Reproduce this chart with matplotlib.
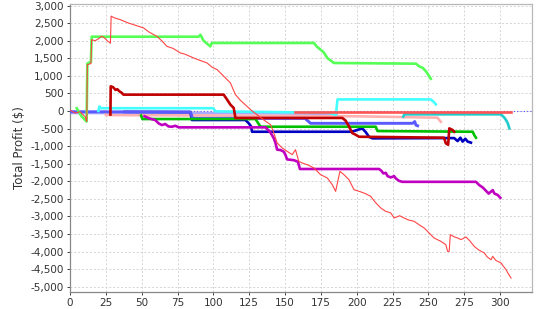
import matplotlib
matplotlib.use("Agg")
import matplotlib.pyplot as plt
from matplotlib.ticker import FuncFormatter, MultipleLocator

# ===============================
# Series data (trade #, total profit $)
# ===============================
red_thin_x = [0, 3.5, 7, 10.5, 11.7, 12.1, 14.6, 15.1, 17.5, 20, 22.1, 24, 26, 28.2, 28.7, 31, 35, 38, 41,
              44.3, 47, 51.3, 55, 60.6, 64, 67.6, 72, 76.9, 80, 86.2, 90, 95.6, 99, 102.6, 107, 111.9,
              115.4, 119, 123.5, 127, 130.5, 135, 139.9, 142, 144.5, 148, 151.5, 155, 157.3, 159.6, 162,
              165.5, 170.2, 174.8, 179.5, 183, 185.3, 188.3, 191.1, 194.6, 198.1, 202.8, 206, 209.8, 213,
              216.8, 220, 223.8, 226.1, 230, 233.1, 236, 240.1, 244, 247.1, 250, 254, 258.7, 262.2, 263.4,
              264.5, 265.3, 268, 270.4, 272.8, 276.2, 279, 282, 285, 289, 291, 293.7, 294.9, 297, 300.7,
              302, 304.2, 306, 307.7]
red_thin_y = [30, -60, -20, -160, -300, 1320, 1350, 2030, 2000, 2060, 2130, 2080, 2000, 1930, 2700, 2650,
              2600, 2550, 2500, 2459, 2420, 2365, 2250, 2126, 2000, 1841, 1780, 1653, 1620, 1511, 1450,
              1369, 1250, 1178, 1000, 800, 466, 300, 133, 0, -103, -250, -388, -600, -909, -1050, -1148,
              -1242, -1100, -1433, -1480, -1527, -1621, -1811, -1906, -2100, -2287, -1717, -1811, -1954,
              -2239, -2300, -2350, -2429, -2600, -2760, -2850, -2902, -3044, -2980, -3044, -3100, -3140,
              -3250, -3329, -3450, -3614, -3709, -3804, -3994, -3994, -3520, -3580, -3614, -3660, -3585,
              -3700, -3853, -3950, -4040, -4150, -4231, -4135, -4250, -4326, -4400, -4516, -4650, -4753]

green_x = [4.7, 8, 11.6, 12.1, 14.6, 15.1, 89.7, 91, 93.2, 97.9, 99, 170.2, 172, 174.8, 177, 179.5, 184.1,
           241.3, 243.6, 246, 248.3, 250.6, 251.7]
green_y = [80, -150, -300, 1350, 1400, 2115, 2115, 2170, 2000, 1840, 1937, 1937, 1840, 1746, 1670, 1510,
           1367, 1347, 1272, 1230, 1130, 990, 917]

dred_x = [28.2, 28.4, 30, 31.8, 33, 34.5, 36, 37.3, 107.2, 109.6, 111.9, 114.2, 115.4, 190, 192.3, 194.6,
          196.9, 199.3, 201.6, 260.9, 262.2, 263.8, 264.6, 266.9, 268]
dred_y = [-100, 703, 680, 600, 620, 560, 520, 466, 466, 324, 181, 87, -198, -198, -275, -437, -627, -675,
          -732, -760, -920, -960, -494, -540, -590]

cyan_x = [19.8, 20.5, 21.5, 100, 101.4, 180, 185.5, 186.6, 251.7, 254, 255.2]
cyan_y = [0, 130, 80, 80, -10, -50, -110, 330, 330, 248, 190]

teal_x = [232.5, 233.3, 300.7, 303, 304.2, 305.4, 306.5]
teal_y = [-160, -95, -95, -190, -260, -350, -493]

mag_x = [52, 56, 59.4, 61.8, 64.1, 66.4, 68.8, 71.1, 73.5, 75.8, 136.4, 139.7, 142.2, 143.4, 144.5, 146.9,
         149.2, 150.3, 151.5, 156.2, 159, 160.4, 215.6, 217.2, 218.6, 220.3, 221.5, 223.8, 226.1, 227.3,
         229.6, 231.9, 283.2, 285.5, 287.9, 290.2, 292.1, 294.9, 296, 298.4, 300.2]
mag_y = [-150, -220, -256, -350, -400, -370, -440, -447, -420, -465, -465, -600, -778, -920, -1100, -1111,
         -1160, -1250, -1377, -1400, -1445, -1650, -1650, -1700, -1776, -1760, -1852, -1890, -1852, -1918,
         -1990, -2015, -2015, -2109, -2175, -2271, -2350, -2252, -2347, -2390, -2470]

dgreen_x = [49.6, 50.5, 129.4, 131, 132.9, 213.3, 214.5, 280.9, 282, 283.2]
dgreen_y = [-130, -228, -228, -330, -447, -447, -570, -590, -684, -760]

dblue_x = [38, 84, 85, 122.4, 124.7, 126.3, 127, 196, 199, 201.6, 204, 206.3, 208.6, 211, 268, 270.4,
           272.3, 273.9, 275.8, 277.4, 279.7]
dblue_y = [-24, -30, -256, -256, -350, -437, -590, -590, -560, -522, -500, -600, -735, -778, -770, -855,
           -760, -870, -790, -870, -900]

mblue_x = [0, 84, 85.5, 164, 167.8, 239, 240.5, 241.3, 242.5]
mblue_y = [-20, -30, -210, -210, -350, -350, -300, -400, -420]

lav_x = [0, 120, 186]
lav_y = [-55, -60, -80]

pink_x = [24.5, 25, 120, 200, 256.4, 257.5, 258.7]
pink_y = [-20, -114, -133, -150, -190, -250, -305]

redz_x = [157, 307.7]
redz_y = [-15, -15]

# ===============================
# Figure
# ===============================
fig = plt.figure(figsize=(5.4, 3.09), dpi=100)
ax = fig.add_axes([70 / 540, 1 - 291.7 / 309, (532.3 - 70) / 540, (291.7 - 4.3) / 309])

ax.axhline(0, color="#4a4aff", lw=0.8, ls=(0, (1, 2)), zorder=1)

thick = 1.9
ax.plot(lav_x, lav_y, color="#a8a8ff", lw=thick, zorder=2)
ax.plot(pink_x, pink_y, color="#ffb0b0", lw=thick, zorder=2)
ax.plot(dblue_x, dblue_y, color="#0000c0", lw=thick, zorder=3)
ax.plot(mblue_x, mblue_y, color="#5a5aff", lw=2.1, zorder=3)
ax.plot(dgreen_x, dgreen_y, color="#00c000", lw=thick, zorder=3)
ax.plot(teal_x, teal_y, color="#22cccc", lw=thick, zorder=3)
ax.plot(cyan_x, cyan_y, color="#44ffff", lw=thick, zorder=3)
ax.plot(redz_x, redz_y, color="#ff5555", lw=thick, zorder=3)
ax.plot(mag_x, mag_y, color="#c000c0", lw=thick, zorder=4)
ax.plot(dred_x, dred_y, color="#c00000", lw=thick, zorder=4)
ax.plot(green_x, green_y, color="#55ff55", lw=thick, zorder=4)
ax.plot(red_thin_x, red_thin_y, color="#ff4444", lw=0.8, zorder=5)

ax.set_xlim(0, 322.5)
ax.set_ylim(-5142, 3037)
ax.xaxis.set_major_locator(MultipleLocator(25))
ax.yaxis.set_major_locator(MultipleLocator(500))
ax.yaxis.set_major_formatter(FuncFormatter(lambda v, p: f"{int(v):,}"))

ax.grid(True, color="#d4d4d4", lw=0.7, ls=(0, (2, 2)))
ax.set_axisbelow(True)

for s in ["top", "right"]:
    ax.spines[s].set_color("#b8b8b8")
    ax.spines[s].set_linewidth(0.9)
for s in ["left", "bottom"]:
    ax.spines[s].set_color("#888888")
    ax.spines[s].set_linewidth(0.9)

ax.tick_params(axis="both", labelsize=7.5, colors="#444444", length=2.5, width=0.7, pad=2)
ax.tick_params(axis="both", labelcolor="#333333")
ax.set_ylabel("Total Profit ($)", fontsize=8.5, color="#333333", labelpad=3)

fig.savefig("out.png", dpi=100)
